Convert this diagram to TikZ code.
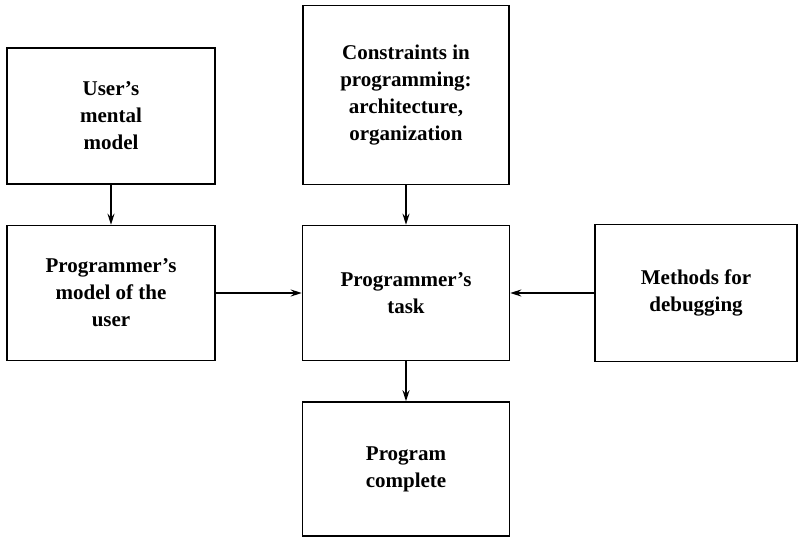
\documentclass[tikz,border=0pt]{standalone}
\usepackage{fontspec}
\setmainfont{Liberation Serif}
\usetikzlibrary{arrows.meta,positioning}

\tikzset{
  block/.style={draw, line width=1.5pt, align=center, inner sep=0pt,
    font=\bfseries\fontsize{21}{27}\selectfont},
  flow/.style={line width=1.4pt, -{Stealth[length=11pt,width=7pt]}}
}

\begin{document}
\begin{tikzpicture}[x=1pt,y=1pt]
  \useasboundingbox (0,0) rectangle (799,539);

  \node[block, minimum width=208pt, minimum height=136pt] (umodel) at (111,423) {User's\\mental\\model};
  \node[block, minimum width=206pt, minimum height=179pt] (constr) at (406,444) {Constraints in\\programming:\\architecture,\\organization};
  \node[block, minimum width=208pt, minimum height=135pt] (pmodel) at (111,246) {Programmer's\\model of the\\user};
  \node[block, minimum width=207pt, minimum height=135pt] (task) at (406,246) {Programmer's\\task};
  \node[block, minimum width=202pt, minimum height=137pt] (debug) at (696,246) {Methods for\\debugging};
  \node[block, minimum width=207pt, minimum height=134pt] (done) at (406,70) {Program\\complete};

  \draw[flow] (umodel) -- (pmodel);
  \draw[flow] (constr) -- (task);
  \draw[flow] (pmodel) -- (task);
  \draw[flow] (debug) -- (task);
  \draw[flow] (task) -- (done);
\end{tikzpicture}
\end{document}
